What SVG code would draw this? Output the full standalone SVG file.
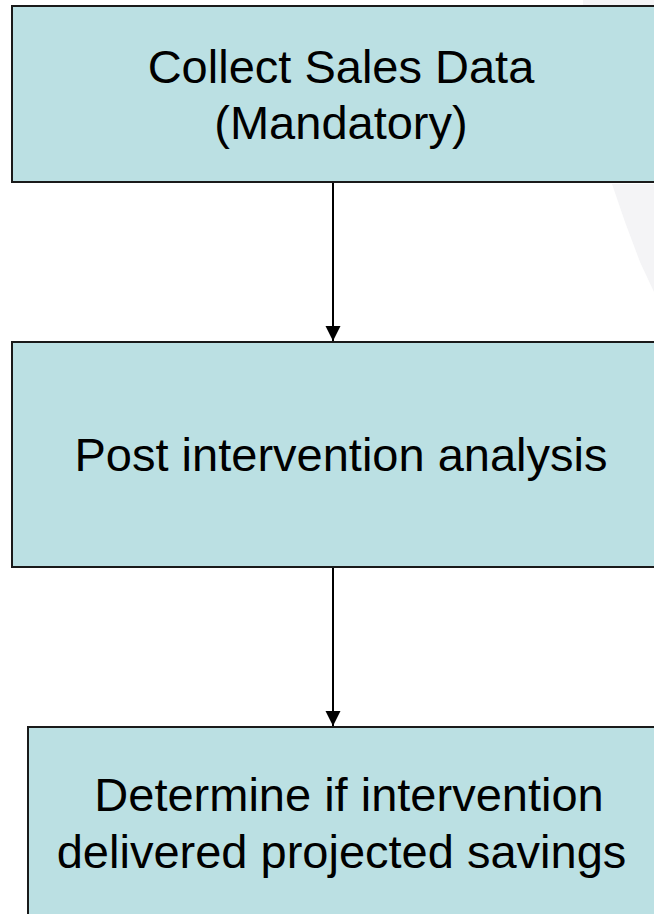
<svg xmlns="http://www.w3.org/2000/svg" width="654" height="914" viewBox="0 0 654 914">
<style>
.box{fill:#bbe0e3;stroke:#1a1a1a;stroke-width:2}
.lbl{font-family:"Liberation Sans",Arial,sans-serif;font-size:47px;fill:#000;text-anchor:middle}
.conn{stroke:#000;stroke-width:2;fill:none}
</style>
<defs>
<marker id="arr" markerUnits="userSpaceOnUse" markerWidth="16" markerHeight="16" refX="15" refY="7.5" orient="auto">
<path d="M0,0 L15,7.5 L0,15 Z" fill="#000"/>
</marker>
</defs>
<rect width="654" height="914" fill="#fff"/>
<g id="watermark">
<polygon points="583,0 654,0 654,5 583,5" fill="#f4f4f6"/>
<polygon points="612,184 654,184 654,292 640,262 625,222" fill="#f4f4f6"/>
</g>
<g id="connectors">
<line class="conn" x1="333" y1="182" x2="333" y2="341" marker-end="url(#arr)"/>
<line class="conn" x1="333" y1="567" x2="333" y2="726" marker-end="url(#arr)"/>
</g>
<g id="node1">
<rect class="box" x="12" y="6" width="660" height="176"/>
<text class="lbl" x="341" y="83">Collect Sales Data</text>
<text class="lbl" x="341" y="139">(Mandatory)</text>
</g>
<g id="node2">
<rect class="box" x="12" y="342" width="660" height="225"/>
<text class="lbl" x="341" y="471">Post intervention analysis</text>
</g>
<g id="node3">
<rect class="box" x="28" y="727" width="660" height="220"/>
<text class="lbl" x="349" y="811">Determine if intervention</text>
<text class="lbl" x="341.5" y="868">delivered projected savings</text>
</g>
</svg>
